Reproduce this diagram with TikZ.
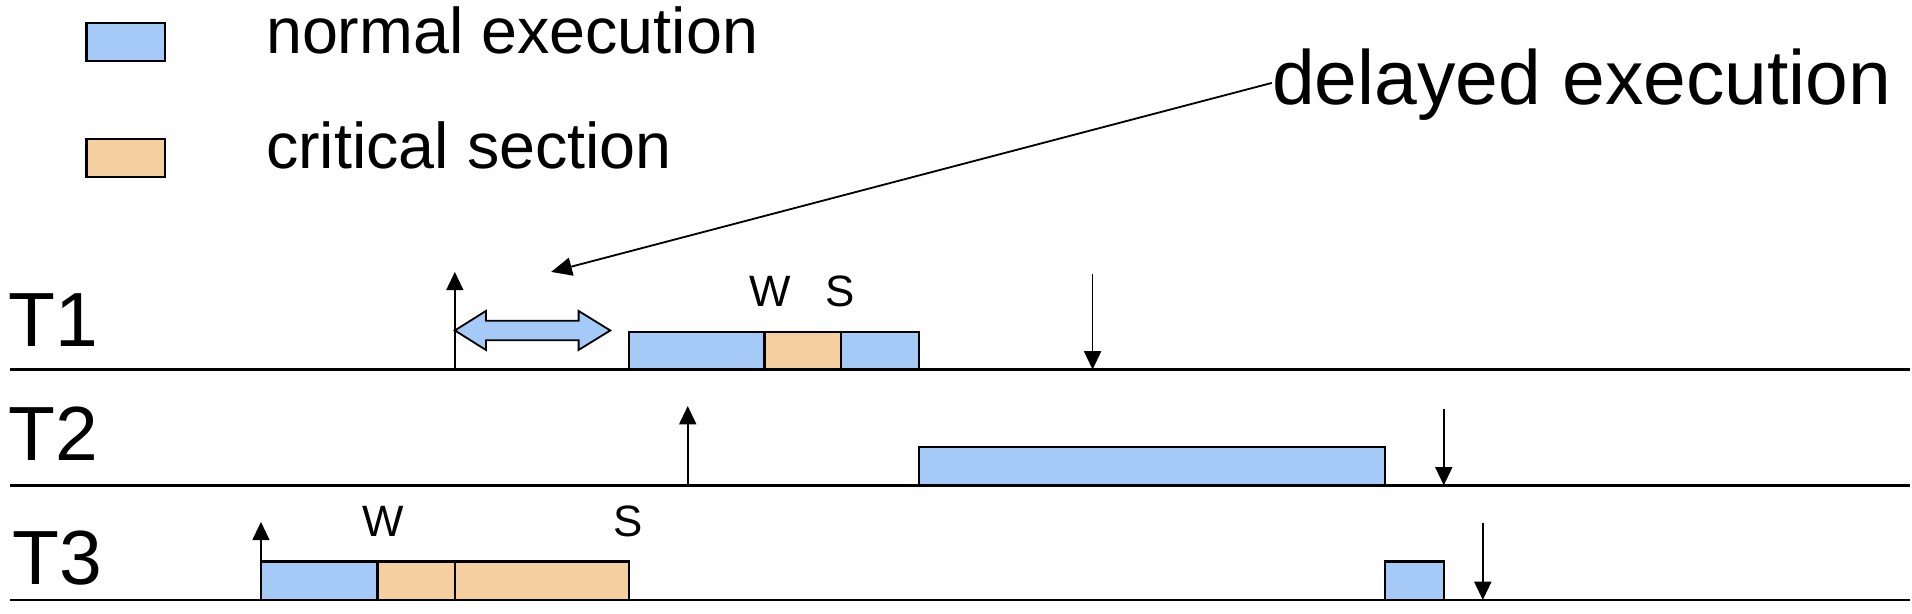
\documentclass[tikz,border=0pt]{standalone}
\usepackage{fontspec}
\setmainfont{Liberation Sans}
\usetikzlibrary{arrows.meta}
\definecolor{normalblue}{HTML}{A6CAF8}
\definecolor{critorange}{HTML}{F6CFA0}

\begin{document}
\begin{tikzpicture}[x=1pt, y=-1pt,
    exec/.style = {draw, line width=1.8pt, fill=normalblue},
    crit/.style = {draw, line width=1.8pt, fill=critorange},
    axis/.style = {line width=2.2pt},
    tick/.style = {line width=1.4pt, -{Triangle[length=15pt, width=14pt]}},
    legendtext/.style = {anchor=base west, inner sep=0pt, font=\fontsize{53}{60}\selectfont},
    tasktext/.style = {anchor=base west, inner sep=0pt, font=\fontsize{63}{70}\selectfont},
    wstext/.style = {anchor=base, inner sep=0pt, font=\fontsize{36}{40}\selectfont}]

    \useasboundingbox (0,0) rectangle (1568,503.5);

    \draw[exec] (71,19) rectangle (135,50);
    \node[legendtext] (lgnormal) at (218,44) {normal execution};
    \draw[crit] (71,114) rectangle (135,145);
    \node[legendtext] (lgcrit) at (218,138) {critical section};

    \node[anchor=base west, inner sep=0pt, font=\fontsize{63}{70}\selectfont] (delay) at (1043,86) {delayed execution};
    \coordinate (gap) at (452,223);
    \draw[line width=1.5pt, -{Triangle[length=17pt, width=15pt]}] (delay.west |- 0,68) -- (gap);

    \node[tasktext] (t1) at (7,284) {T1};
    \node[tasktext] (t2) at (7,378) {T2};
    \node[tasktext] (t3) at (10,479) {T3};

    \draw[axis] (8,303) -- (1566,303);
    \draw[axis] (8,398) -- (1566,398);
    \draw[axis] (8,492) -- (1566,492);

    % T1
    \coordinate (rel1) at (373,303);
    \coordinate (dl1) at (896,303);
    \draw[tick] (rel1) -- ++(0,-80);
    \draw[tick] (dl1 |- 0,225) -- (dl1);
    \draw[line width=1.5pt, fill=normalblue] (373,271) -- (398.5,255) -- (398.5,263) -- (474.5,263) -- (474.5,255)
        -- (500.5,271) -- (474.5,287) -- (474.5,279) -- (398.5,279) -- (398.5,287) -- cycle;
    \draw[exec] (516,272) rectangle (627,303);
    \draw[crit] (627,272) rectangle (690,303);
    \draw[exec] (690,272) rectangle (753.5,303);
    \node[wstext] (w1) at (631.5,251) {W};
    \node[wstext] (s1) at (689,251) {S};

    % T2
    \coordinate (rel2) at (564,398);
    \coordinate (dl2) at (1184,398);
    \draw[tick] (rel2) -- ++(0,-65);
    \draw[tick] (dl2 |- 0,335) -- (dl2);
    \draw[exec] (753.5,366.5) rectangle (1136,398);

    % T3
    \coordinate (rel3) at (214,492);
    \coordinate (dl3) at (1216,492);
    \draw[tick] (rel3) -- ++(0,-64);
    \draw[tick] (dl3 |- 0,429) -- (dl3);
    \draw[exec] (214,460.5) rectangle (309.5,492);
    \draw[crit] (309.5,460.5) rectangle (373,492);
    \draw[crit] (373,460.5) rectangle (516,492);
    \draw[exec] (1136,460.5) rectangle (1184.5,492);
    \node[wstext] (w3) at (314,440) {W};
    \node[wstext] (s3) at (515.5,440) {S};
\end{tikzpicture}
\end{document}
